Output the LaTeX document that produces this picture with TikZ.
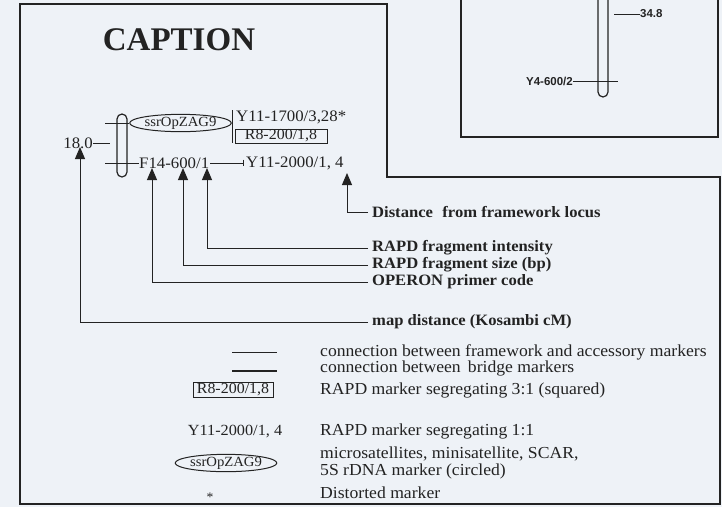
\documentclass[tikz,border=0pt]{standalone}
\usepackage{fontspec}
\setmainfont[FakeStretch=1.05]{Liberation Serif}
\newfontfamily\capfont{Liberation Serif}
\newfontfamily\sansf{Liberation Sans}
\usetikzlibrary{arrows.meta,shapes.geometric}
\definecolor{paper}{RGB}{238,242,247}
\definecolor{ink}{RGB}{35,35,35}
\tikzset{
  frame/.style={line width=1.4pt, draw=ink},
  lbl/.style={anchor=west, inner sep=0pt, text=ink, font=\fontsize{15.8}{17}\selectfont\bfseries},
  mk/.style={anchor=west, inner sep=0pt, text=ink, font=\fontsize{16}{17}\selectfont},
  leg/.style={anchor=west, inner sep=0pt, text=ink, font=\fontsize{16.8}{18}\selectfont},
  arr/.style={line width=1pt, draw=ink, -{Triangle[width=10pt,length=12pt]}},
  tickline/.style={line width=0.9pt, draw=ink},
  chrom/.style={draw=ink, line width=1.2pt, rounded corners=5pt, minimum width=10pt, inner sep=0pt},
  ssr/.style={ellipse, draw=ink, line width=1pt, inner sep=0pt, minimum width=85pt, minimum height=15pt, text=ink, font=\fontsize{14}{14}\selectfont},
  sq/.style={draw=ink, line width=0.9pt, inner sep=0pt, minimum height=14pt, text=ink, font=\fontsize{15.2}{15}\selectfont},
  small/.style={inner sep=0pt, text=ink, font=\sansf\fontsize{11.5}{12}\selectfont\bfseries},
}
\begin{document}
\begin{tikzpicture}[x=1pt,y=-1pt]
\fill[paper] (0,0) rectangle (722,507);
\useasboundingbox (0,0) rectangle (722,507);
% frames
\draw[frame] (20,4) -- (387,4) -- (387,177) -- (720,177) -- (720,504) -- (20,504) -- cycle;
\draw[frame] (461,-5) -- (461,137) -- (718,137) -- (718,-5);
% top-right chromosome
\draw[draw=ink, line width=1.2pt, rounded corners=5pt] (598,-20) rectangle (608,97);
\node[small, anchor=west] (c348) at (640,14) {34.8};
\coordinate (t348) at (614,14);
\draw[tickline] (t348) -- (c348.west);
\node[small, anchor=east] (y4) at (573,81) {Y4-600/2};
\coordinate (y4e) at (618,81);
\draw[tickline] (y4.east) -- (y4e);
% caption title
\node[text=ink, font=\capfont\fontsize{33}{36}\selectfont\bfseries, inner sep=0pt] (cap) at (179,40) {CAPTION};
% caption chromosome
\node[chrom, minimum height=63pt] (chr) at (122,145.5) {};
\node[ssr] (ell) at (180.5,123) {ssrOpZAG9};
\coordinate (ut) at (105,123);
\draw[tickline] (ut) -- (ell.west);
\coordinate (bar1) at (232,110);
\coordinate (bar2) at (232,143);
\draw[tickline] (bar1) -- (bar2);
\draw[tickline] (ell.east) -- (bar1 |- ell.east);
\node[mk] (y1700) at (236,117) {Y11-1700/3,28*};
\node[sq, minimum width=92pt] (r8) at (281,136) {R8-200/1,8};
\node[mk] (f14) at (139,163) {F14-600/1};
\coordinate (lt) at (105,163);
\draw[tickline] (lt) -- (f14.west);
\node[mk, anchor=east] (d18) at (93,143) {18.0};
\coordinate (d18e) at (110,143);
\draw[tickline] (d18.east) -- (d18e);
\node[mk] (y2000) at (246,163) {Y11-2000/1, 4};
\coordinate (c1) at (210,163);
\coordinate (c2) at (243,163);
\draw[tickline] (c1) -- (c2);
\draw[tickline] (243,159.5) -- (243,166);
% arrow labels
\node[lbl] (ldist) at (372,212) {Distance\,\, from framework locus};
\node[lbl] (lint) at (372,248) {RAPD fragment intensity};
\node[lbl] (lsize) at (372,265) {RAPD fragment size (bp)};
\node[lbl] (lop) at (372,282) {OPERON primer code};
\node[lbl] (lmap) at (372,322) {map distance (Kosambi cM)};
\coordinate (tip1) at (80,147);
\coordinate (tip2) at (152,168);
\coordinate (tip3) at (183,168);
\coordinate (tip4) at (207,168);
\coordinate (tip5) at (347,173);
\draw[arr] ([xshift=-4pt]lmap.west) -| (tip1);
\draw[arr] ([xshift=-4pt]lop.west) -| (tip2);
\draw[arr] ([xshift=-4pt]lsize.west) -| (tip3);
\draw[arr] ([xshift=-4pt]lint.west) -| (tip4);
\draw[arr] ([xshift=-4pt]ldist.west) -| (tip5);
% legend
\coordinate (l1a) at (232,352);
\coordinate (l1b) at (277,352);
\draw[line width=0.8pt, draw=ink] (l1a) -- (l1b);
\node[leg] (t1) at (320,352) {connection between framework and accessory markers};
\coordinate (l2a) at (232,371);
\coordinate (l2b) at (277,371);
\draw[line width=1.6pt, draw=ink] (l2a) -- (l2b);
\node[leg] (t2) at (320,368) {connection between\, bridge markers};
\node[sq, minimum width=80pt, minimum height=15pt] (lr8) at (233,390) {R8-200/1,8};
\node[leg] (t3) at (320,390) {RAPD marker segregating 3:1 (squared)};
\node[inner sep=0pt, text=ink, font=\fontsize{15.5}{17}\selectfont] (ly11) at (235,432) {Y11-2000/1, 4};
\node[leg] (t4) at (320,431) {RAPD marker segregating 1:1};
\node[ssr, minimum width=86pt, minimum height=16pt] (lell) at (226,463) {ssrOpZAG9};
\node[leg] (t5) at (320,454) {microsatellites, minisatellite, SCAR,};
\node[leg] (t6) at (320,471) {5S rDNA marker (circled)};
\node[inner sep=0pt, text=ink, font=\fontsize{13}{14}\selectfont] (lstar) at (210,497) {*};
\node[leg] (t7) at (320,493) {Distorted marker};
\end{tikzpicture}
\end{document}
